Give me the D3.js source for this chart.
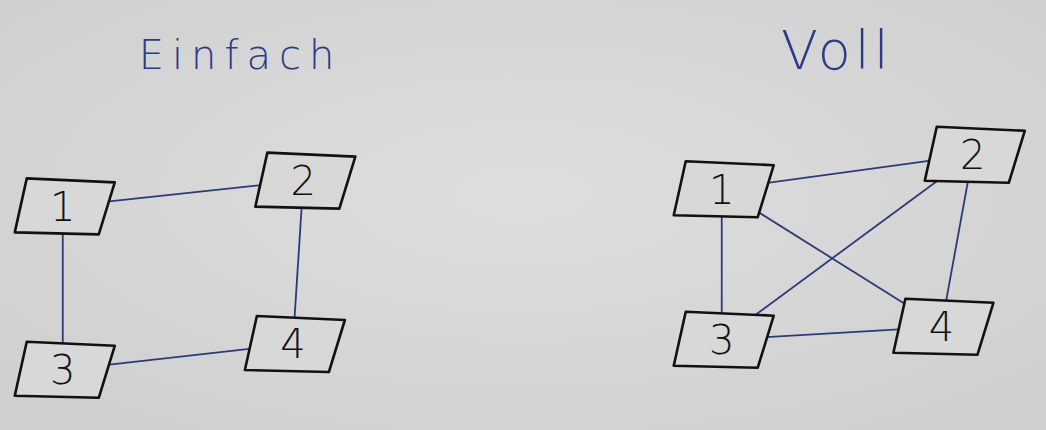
<!DOCTYPE html>
<html>
<head>
<meta charset="utf-8">
<script src="https://cdn.jsdelivr.net/npm/d3@7"></script>
<style>
  body { margin: 0; background: #d6d6d6; }
</style>
</head>
<body>
<div class="canvas"></div>
<script>
// graph data: node labels, layout positions (0-100 units), edges
const graphTitles = ['Einfach', 'Voll'];
const nodeLabels = ['1', '2', '3', '4'];
const leftNodeX = [6, 29, 6, 28];
const leftNodeY = [48, 42, 86, 80];
const rightNodeX = [69, 93, 69, 90];
const rightNodeY = [44, 36, 79, 76];
const leftEdges = [[0, 1], [1, 3], [0, 2], [2, 3]];
const rightEdges = [[0, 1], [1, 3], [0, 2], [2, 3], [0, 3], [1, 2]];

const width = 1046, height = 430;

const svg = d3.select('.canvas')
    .append('svg')
    .attr('width', width)
    .attr('height', height);

// whiteboard background
const defs = svg.append('defs');
const grad = defs.append('radialGradient').attr('id', 'bg')
    .attr('cx', '50%').attr('cy', '45%').attr('r', '70%');
grad.append('stop').attr('offset', '0%').attr('stop-color', '#dedede');
grad.append('stop').attr('offset', '100%').attr('stop-color', '#cfcfcf');
svg.append('rect').attr('width', width).attr('height', height).attr('fill', 'url(#bg)');

const x = d3.scaleLinear().domain([0, 100]).range([0, width]);
const y = d3.scaleLinear().domain([0, 100]).range([0, height]);

const boxW = 88, boxH = 56, skew = 8;

function drawGraph(nx, ny, edges, title, titleX, titleSize) {
    const g = svg.append('g');
    const nodes = nodeLabels.map((label, i) => ({ label, cx: x(nx[i]), cy: y(ny[i]) }));

    g.append('text')
        .attr('x', x(titleX))
        .attr('y', y(16))
        .attr('text-anchor', 'middle')
        .attr('fill', '#2a3b8a')
        .attr('font-family', 'DejaVu Sans')
        .attr('font-weight', 200)
        .attr('font-size', titleSize)
        .attr('letter-spacing', title === 'Einfach' ? 8 : 4)
        .text(title);

    g.selectAll('line')
        .data(edges)
        .enter()
        .append('line')
        .attr('x1', d => nodes[d[0]].cx)
        .attr('y1', d => nodes[d[0]].cy)
        .attr('x2', d => nodes[d[1]].cx)
        .attr('y2', d => nodes[d[1]].cy)
        .attr('stroke', '#2c3a78')
        .attr('stroke-width', 1.8);

    const box = g.selectAll('g.node')
        .data(nodes)
        .enter()
        .append('g')
        .attr('class', 'node')
        .attr('transform', d => `translate(${d.cx},${d.cy})`);

    box.append('path')
        .attr('d', `M${-boxW / 2 + skew},${-boxH / 2} L${boxW / 2 + skew},${-boxH / 2 + 4}
                    L${boxW / 2 - skew},${boxH / 2} L${-boxW / 2 - skew / 2},${boxH / 2 - 2} Z`)
        .attr('fill', '#d8d8d8')
        .attr('stroke', '#111')
        .attr('stroke-width', 2.6)
        .attr('stroke-linejoin', 'round');

    box.append('text')
        .attr('text-anchor', 'middle')
        .attr('dy', '0.36em')
        .attr('font-family', 'DejaVu Sans')
        .attr('font-weight', 200)
        .attr('font-size', 40)
        .attr('fill', '#111')
        .text(d => d.label);
}

drawGraph(leftNodeX, leftNodeY, leftEdges, graphTitles[0], 23, 40);
drawGraph(rightNodeX, rightNodeY, rightEdges, graphTitles[1], 80, 54);
</script>
</body>
</html>
